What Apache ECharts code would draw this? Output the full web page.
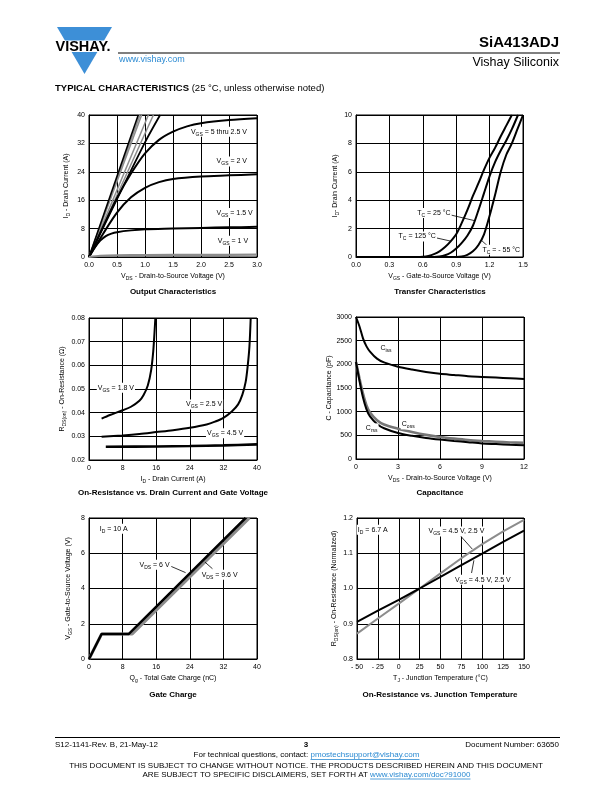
<!DOCTYPE html>
<html><head><meta charset="utf-8">
<script src="https://cdn.jsdelivr.net/npm/echarts@6/dist/echarts.min.js"></script>
<style>html,body{margin:0;padding:0;background:#fff}#c{width:612px;height:792px}</style>
</head><body><div id="c"></div>
<script>
// ---------- DATA ----------
// 1. Output characteristics: ID (A) vs VDS (V)
const out_steepA = [[0,0],[0.88,40]];
const out_steepB = [[0,0],[0.91,40]];
const out_steepC = [[0,0],[0.94,40]];
const out_steepD = [[0,0],[1.06,40]];
const out_steepE = [[0,0],[1.15,40]];
const out_steepF = [[0,0],[0.5,16.3],[1.0,32.3],[1.27,40]];
const out_vgs25 = [[0,0],[0.25,8.5],[0.5,16.6],[0.75,23.5],[1.0,29.2],[1.25,33],[1.5,35.3],[1.75,36.8],[2.0,37.7],[2.5,38.6],[3.0,39.1]];
const out_vgs2 = [[0,0],[0.25,6.5],[0.5,12.5],[0.75,16.8],[1.0,19.5],[1.25,21.1],[1.5,22.0],[2.0,22.7],[2.5,23.0],[3.0,23.3]];
const out_vgs15 = [[0,0],[0.1,2.6],[0.2,4.6],[0.3,5.9],[0.4,6.6],[0.5,7.0],[0.75,7.5],[1.0,7.8],[1.5,8.0],[2.0,8.2],[2.5,8.35],[3.0,8.5]];
const out_vgs1 = [[0,0],[0.2,0.35],[0.5,0.5],[1.0,0.55],[2.0,0.6],[3.0,0.65]];

// 2. Transfer characteristics: ID (A) vs VGS (V)
const tr_125 = [[0,0],[0.55,0],[0.6,0.02],[0.65,0.08],[0.7,0.2],[0.75,0.4],[0.8,0.7],[0.85,1.1],[0.9,1.6],[0.95,2.4],[1.0,3.3],[1.05,4.3],[1.1,5.2],[1.15,6.15],[1.2,7.0],[1.25,7.7],[1.3,8.5],[1.35,9.25],[1.4,10]];
const tr_25 = [[0,0],[0.7,0],[0.75,0.03],[0.8,0.12],[0.85,0.3],[0.9,0.6],[0.95,1.0],[1.0,1.5],[1.05,2.2],[1.1,3.3],[1.15,4.5],[1.2,5.7],[1.25,6.7],[1.3,7.5],[1.35,8.2],[1.4,9.0],[1.455,10]];
const tr_m55 = [[0,0],[0.85,0],[0.95,0.04],[1.0,0.15],[1.05,0.4],[1.1,0.85],[1.15,1.6],[1.2,2.9],[1.25,4.4],[1.3,6.0],[1.35,7.2],[1.4,8.0],[1.45,9.0],[1.5,10]];

// 3. On-resistance vs drain current: RDS(on) (ohm) vs ID (A)
const ron_18 = [[3,0.0375],[5,0.0390],[8,0.0410],[10,0.0425],[12,0.0450],[13,0.0475],[14,0.0515],[14.8,0.058],[15.3,0.066],[15.6,0.074],[15.8,0.080]];
const ron_25 = [[3,0.0298],[8,0.0304],[12,0.0310],[16,0.0318],[20,0.0326],[24,0.0336],[28,0.0350],[30,0.0362],[32,0.0378],[34,0.0405],[35.5,0.0435],[36.5,0.0475],[37.3,0.053],[37.8,0.060],[38.2,0.068],[38.5,0.080]];
const ron_45 = [[4,0.0256],[16,0.0257],[24,0.0259],[32,0.0262],[40,0.0266]];

// 4. Capacitance (pF) vs VDS (V)
const cap_vds = [0,0.25,0.5,0.75,1,1.5,2,3,4,5,6,7,8,9,10,11,12];
const cap_ciss = [3000,2800,2550,2380,2270,2120,2040,1950,1890,1840,1800,1775,1750,1735,1720,1705,1690];
const cap_coss = [2050,1700,1380,1130,980,820,730,640,570,510,465,430,400,380,365,350,340];
const cap_crss = [2050,1650,1300,1050,900,740,650,550,490,445,410,380,355,330,315,300,290];

// 5. Gate charge: VGS (V) vs Qg (nC)
const gc_6V = [[0,0],[3,1.42],[9.5,1.42],[37.3,8]];
const gc_96V = [[0,0],[3,1.42],[10.3,1.42],[38.2,8]];

// 6. On-resistance vs junction temperature
const tj_x = [-50,-25,0,25,50,75,100,125,150];
const tj_black = [0.905,0.937,0.968,1.0,1.033,1.066,1.099,1.132,1.164];
const tj_gray = [0.872,0.915,0.957,1.0,1.043,1.086,1.126,1.162,1.195];

// ---------- CHART ----------
const FONT = 'Liberation Sans, Arial, Helvetica, sans-serif';
const BLACK = '#000', GRAY = '#8c8c8c';
const rich = {
  n: {fontSize: 7, fontFamily: FONT, color: '#000', lineHeight: 10},
  s: {fontSize: 5, fontFamily: FONT, color: '#000', verticalAlign: 'bottom'}
};
const zip = (xs, ys) => xs.map((x, i) => [x, ys[i]]);

function xAx(gi, min, max, interval, name, fmt) {
  return {type: 'value', gridIndex: gi, min, max, interval,
    name, nameLocation: 'middle', nameGap: 14,
    nameTextStyle: {rich, fontSize: 7, fontFamily: FONT, color: '#000'},
    axisLine: {show: true, onZero: false, lineStyle: {color: BLACK, width: 1}},
    axisTick: {show: false},
    axisLabel: {fontSize: 7, color: '#000', fontFamily: FONT, margin: 5, formatter: fmt || (v => String(v))},
    splitLine: {show: true, lineStyle: {color: BLACK, width: 1}}};
}
function yAx(gi, min, max, interval, name, fmt, gap) {
  const a = xAx(gi, min, max, interval, name, fmt);
  a.nameGap = gap; a.axisLabel.margin = 4;
  return a;
}
function line(gi, data, color, width, extra) {
  return Object.assign({type: 'line', xAxisIndex: gi, yAxisIndex: gi, data,
    showSymbol: false, symbol: 'none', smooth: 0.3,
    lineStyle: {color, width}, silent: true, animation: false, z: 3}, extra || {});
}
function labels(items) {
  return {symbol: 'circle', symbolSize: 1, itemStyle: {color: 'rgba(0,0,0,0)'}, silent: true, animation: false,
    label: {show: true, position: 'inside', rich, backgroundColor: '#fff', padding: [0, 1, 0, 1]},
    data: items.map(it => ({coord: it[0], label: {formatter: it[1], align: it[2] || 'center'}}))};
}
function arrows(list) {
  return {silent: true, animation: false, symbol: ['none', 'arrow'], symbolSize: [0, 5],
    lineStyle: {color: BLACK, width: 0.8, type: 'solid'}, label: {show: false},
    emphasis: {disabled: true},
    data: list.map(a => [{coord: a[0]}, {coord: a[1]}])};
}
const V = (sub, rest) => '{n|V}{s|' + sub + '}{n|' + rest + '}';
const T = (rest) => '{n|T}{s|C}{n|' + rest + '}';

const f1 = v => v.toFixed(1), f2 = v => v.toFixed(2);
const fT = v => v < 0 ? '- ' + (-v) : String(v);

const option = {
  backgroundColor: '#fff',
  animation: false,
  grid: [
    {left: 89, top: 115, width: 168, height: 142},
    {left: 356, top: 115, width: 167, height: 142},
    {left: 89, top: 318, width: 168, height: 142},
    {left: 356, top: 317, width: 168, height: 142},
    {left: 89, top: 518, width: 168, height: 141},
    {left: 357, top: 518, width: 167, height: 141}
  ].map(g => Object.assign(g, {show: true, borderColor: BLACK, borderWidth: 1, backgroundColor: 'transparent'})),
  xAxis: [
    xAx(0, 0, 3, 0.5, V('DS', ' - Drain-to-Source Voltage (V)'), f1),
    xAx(1, 0, 1.5, 0.3, V('GS', ' - Gate-to-Source Voltage (V)'), f1),
    xAx(2, 0, 40, 8, '{n|I}{s|D}{n| - Drain Current (A)}'),
    xAx(3, 0, 12, 3, V('DS', ' - Drain-to-Source Voltage (V)')),
    xAx(4, 0, 40, 8, '{n|Q}{s|g}{n| - Total Gate Charge (nC)}'),
    xAx(5, -50, 150, 25, '{n|T}{s|J}{n| - Junction Temperature (°C)}', fT)
  ],
  yAxis: [
    yAx(0, 0, 40, 8, '{n|I}{s|D}{n| - Drain Current (A)}', null, 18),
    yAx(1, 0, 10, 2, '{n|I}{s|D}{n|- Drain Current (A)}', null, 15),
    yAx(2, 0.02, 0.08, 0.01, '{n|R}{s|DS(on)}{n| - On-Resistance (Ω)}', f2, 20),
    yAx(3, 0, 3000, 500, '{n|C - Capacitance (pF)}', null, 21),
    yAx(4, 0, 8, 2, V('GS', ' - Gate-to-Source Voltage (V)'), null, 16),
    yAx(5, 0.8, 1.2, 0.1, '{n|R}{s|DS(on)}{n| - On-Resistance (Normalized)}', f1, 18)
  ],
  series: [
    // chart 1
    line(0, out_steepB, GRAY, 1.5, {smooth: false}),
    line(0, out_steepC, GRAY, 1.5, {smooth: false}),
    line(0, out_steepD, GRAY, 1.5, {smooth: false}),
    line(0, out_steepE, GRAY, 1.5, {smooth: false}),
    line(0, out_steepA, BLACK, 1.6, {smooth: false}),
    line(0, out_steepF, BLACK, 1.8),
    line(0, out_vgs25, BLACK, 2),
    line(0, out_vgs2, BLACK, 2),
    line(0, out_vgs15, BLACK, 2),
    line(0, out_vgs1, GRAY, 2.2, {
      markPoint: labels([
        [[2.32, 35.3], V('GS', ' = 5 thru 2.5 V')],
        [[2.55, 26.9], V('GS', ' = 2 V')],
        [[2.60, 12.4], V('GS', ' = 1.5 V')],
        [[2.57, 4.6], V('GS', ' = 1 V')]
      ])
    }),
    // chart 2
    line(1, tr_125, BLACK, 2),
    line(1, tr_25, BLACK, 2),
    line(1, tr_m55, BLACK, 2, {
      markPoint: labels([
        [[0.70, 3.09], T(' = 25 °C')],
        [[0.55, 1.45], T(' = 125 °C')],
        [[1.305, 0.51], T(' = - 55 °C')]
      ]),
      markLine: arrows([
        [[0.845, 2.97], [1.07, 2.55]],
        [[0.725, 1.34], [0.85, 1.12]],
        [[1.19, 0.72], [1.13, 1.15]]
      ])
    }),
    // chart 3
    line(2, ron_18, BLACK, 2),
    line(2, ron_25, BLACK, 2),
    line(2, ron_45, BLACK, 2.6, {
      markPoint: labels([
        [[6.4, 0.0505], V('GS', ' = 1.8 V')],
        [[27.4, 0.0435], V('GS', ' = 2.5 V')],
        [[32.4, 0.0313], V('GS', ' = 4.5 V')]
      ])
    }),
    // chart 4
    line(3, zip(cap_vds, cap_ciss), BLACK, 2),
    line(3, zip(cap_vds, cap_coss), '#777', 2.6),
    line(3, zip(cap_vds, cap_crss), BLACK, 2, {
      markPoint: labels([
        [[2.14, 2347], '{n|C}{s|iss}'],
        [[3.73, 731], '{n|C}{s|oss}'],
        [[1.12, 647], '{n|C}{s|rss}']
      ])
    }),
    // chart 5
    line(4, gc_96V, GRAY, 3, {smooth: false}),
    line(4, gc_6V, BLACK, 2.5, {smooth: false,
      markPoint: labels([
        [[5.9, 7.39], '{n|I}{s|D}{n| = 10 A}'],
        [[15.6, 5.35], V('DS', ' = 6 V')],
        [[31.1, 4.78], V('DS', ' = 9.6 V')]
      ]),
      markLine: arrows([
        [[19.6, 5.25], [23.0, 4.9]],
        [[29.4, 5.12], [27.6, 5.5]]
      ])
    }),
    // chart 6
    line(5, zip(tj_x, tj_gray), GRAY, 2, {smooth: false}),
    line(5, zip(tj_x, tj_black), BLACK, 2, {smooth: false,
      markPoint: labels([
        [[-31.1, 1.167], '{n|I}{s|D}{n| = 6.7 A}'],
        [[69.1, 1.162], V('GS', ' = 4.5 V, 2.5 V')],
        [[100.7, 1.025], V('GS', ' = 4.5 V, 2.5 V')]
      ]),
      markLine: arrows([
        [[73.3, 1.151], [88, 1.112]],
        [[87.2, 1.044], [90, 1.08]]
      ])
    })
  ],
  graphic: []
};

// ---------- PAGE TEXT ----------
const cv = document.createElement('canvas').getContext('2d');
function tw(text, font) { cv.font = font; return cv.measureText(text).width; }
const G = option.graphic;
function txt(text, x, y, font, fill, align) {
  G.push({type: 'text', silent: true, style: {text, x, y, font, fill: fill || '#000',
    textAlign: align || 'left', textVerticalAlign: 'middle', align: align || 'left', verticalAlign: 'middle'}});
}
function hline(x1, y, x2, color, w) {
  G.push({type: 'line', silent: true, shape: {x1, y1: y, x2, y2: y}, style: {stroke: color || '#000', lineWidth: w || 1}});
}
// header
G.push({type: 'polygon', silent: true, shape: {points: [[57, 27], [112, 27], [84.5, 74]]}, style: {fill: '#3d8fd7'}});
G.push({type: 'rect', silent: true, shape: {x: 50, y: 40.5, width: 68, height: 11.5}, style: {fill: '#fff'}});
txt('VISHAY.', 83, 46.5, 'bold 14.5px ' + FONT, '#000', 'center');
txt('www.vishay.com', 119, 60, '9px ' + FONT, '#2b8ad2');
hline(118, 53, 560, '#000', 1.2);
txt('SiA413ADJ', 559, 43, 'bold 15px ' + FONT, '#000', 'right');
txt('Vishay Siliconix', 559, 62.5, '12.5px ' + FONT, '#000', 'right');
txt('TYPICAL CHARACTERISTICS', 55, 88, 'bold 9.5px ' + FONT);
txt('(25 °C, unless otherwise noted)', 55 + tw('TYPICAL CHARACTERISTICS ', 'bold 9.5px ' + FONT), 88, '9.5px ' + FONT);
// chart titles
const TF = 'bold 8px ' + FONT;
txt('Output Characteristics', 173, 292, TF, '#000', 'center');
txt('Transfer Characteristics', 440, 292, TF, '#000', 'center');
txt('On-Resistance vs. Drain Current and Gate Voltage', 173, 493, TF, '#000', 'center');
txt('Capacitance', 440, 493, TF, '#000', 'center');
txt('Gate Charge', 173, 695, TF, '#000', 'center');
txt('On-Resistance vs. Junction Temperature', 440, 695, TF, '#000', 'center');
// footer
const FF = '8px ' + FONT;
hline(55, 737.5, 560, '#000', 1);
txt('S12-1141-Rev. B, 21-May-12', 55, 744.5, FF);
txt('3', 306, 745, 'bold 8px ' + FONT, '#000', 'center');
txt('Document Number: 63650', 559, 744.5, FF, '#000', 'right');
function mixed(a, b, y) {
  const w1 = tw(a, FF), w2 = tw(b, FF), x0 = 306.5 - (w1 + w2) / 2;
  txt(a, x0, y, FF);
  txt(b, x0 + w1, y, FF, '#2b8ad2');
  hline(x0 + w1, y + 4.5, x0 + w1 + w2, '#2b8ad2', 0.8);
}
mixed('For technical questions, contact: ', 'pmostechsupport@vishay.com', 755);
txt('THIS DOCUMENT IS SUBJECT TO CHANGE WITHOUT NOTICE. THE PRODUCTS DESCRIBED HEREIN AND THIS DOCUMENT', 306, 766, FF, '#000', 'center');
mixed('ARE SUBJECT TO SPECIFIC DISCLAIMERS, SET FORTH AT ', 'www.vishay.com/doc?91000', 774.5);

const chart = echarts.init(document.getElementById('c'), null, {renderer: 'canvas', width: 612, height: 792});
chart.setOption(option);
</script>
</body></html>
